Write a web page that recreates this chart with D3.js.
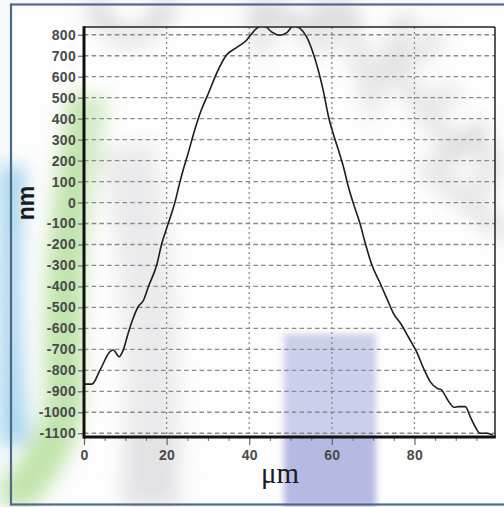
<!DOCTYPE html>
<html><head><meta charset="utf-8">
<script src="https://cdn.jsdelivr.net/npm/d3@7"></script>
<style>
html,body{margin:0;padding:0;background:#fff;}
#wrap{position:relative;width:504px;height:507px;overflow:hidden;}
#wrap svg{position:absolute;left:0;top:0;display:block;}
#bgSoft{filter:blur(9px);}
#bgMid{filter:blur(3px);}
</style>
</head><body>
<div id="wrap">
<svg id="bgBase" width="504" height="507"></svg>
<svg id="bgSoft" width="504" height="507"></svg>
<svg id="bgMid" width="504" height="507"></svg>
<svg id="chart" width="504" height="507"></svg>
</div>
<script>
const xValues = [0, 1.9, 3.9, 6.3, 7.1, 8.5, 9.5, 10.7, 11.9, 13.1, 14.4, 15.6, 17.6, 18.8, 20.4, 22.0, 23.2, 24.0, 25.2, 26.8, 28.4, 30.1, 32.1, 34.5, 37.0, 39.4, 40.4, 41.8, 43.0, 44.2, 45.4, 47.5, 49.1, 50.7, 52.3, 53.9, 55.5, 56.7, 57.9, 59.2, 60.3, 61.6, 62.8, 64.0, 65.2, 66.8, 68.0, 69.7, 71.7, 73.3, 74.9, 76.9, 78.5, 80.5, 82.2, 83.8, 85.5, 86.6, 87.8, 89.6, 90.6, 92.3, 93.5, 94.7, 95.9, 97.5, 99.0];
const heightNm = [-866, -866, -798, -711, -703, -735, -703, -623, -552, -497, -466, -400, -298, -198, -99, 0, 96, 155, 234, 346, 441, 520, 616, 703, 740, 775, 800, 830, 842, 835, 814, 798, 810, 842, 830, 790, 711, 632, 536, 409, 330, 250, 171, 75, -4, -99, -187, -298, -385, -457, -528, -584, -640, -711, -790, -854, -886, -894, -933, -976, -973, -973, -1021, -1069, -1100, -1100, -1108];
const yTicks = [800, 700, 600, 500, 400, 300, 200, 100, 0, -100, -200, -300, -400, -500, -600, -700, -800, -900, -1000, -1100];
const xTicks = [0, 20, 40, 60, 80];
const xMinorTicks = [5, 10, 15, 25, 30, 35, 45, 50, 55, 65, 70, 75, 85, 90, 95];

// ---- background layers (watermark) ----
const base = d3.select("#bgBase");
base.append("rect").attr("width",504).attr("height",507).attr("fill","#f7fafc");
base.append("rect").attr("x",11).attr("y",5).attr("width",493).attr("height",500).attr("fill","#fdfdfd");

const soft = d3.select("#bgSoft");
soft.append("path").attr("d","M 5 165 Q -8 300 8 445").attr("fill","none").attr("stroke","#a6d4ee")
  .attr("stroke-width",42);
soft.append("path").attr("d","M 90 95 Q 58 260 66 400 Q 55 460 5 505").attr("fill","none").attr("stroke","#c2e4ae")
  .attr("stroke-width",40);
soft.append("path").attr("d","M 125 145 Q 160 290 150 520").attr("fill","none").attr("stroke","#e3e3e6")
  .attr("stroke-width",55);
const wmStrokes = [
  "M 95 -5 Q 100 35 130 38 Q 160 35 168 -5",
  "M 258 -5 L 262 45 M 262 5 L 325 42 M 322 -5 L 326 45",
  "M 345 10 L 372 95 L 405 25",
  "M 395 70 L 455 150 M 395 70 L 435 40 M 425 110 L 450 95 M 455 150 L 480 130",
  "M 430 170 L 500 230 M 430 170 L 470 140 Q 500 150 480 190"
];
soft.selectAll("path.wmstroke").data(wmStrokes).join("path").attr("class","wmstroke").attr("d",d=>d)
  .attr("fill","none").attr("stroke","#c8c8c8").attr("stroke-width",22).attr("stroke-linecap","round")
  .attr("opacity",0.6);

const mid = d3.select("#bgMid");
mid.append("rect").attr("x",284).attr("y",334).attr("width",92).attr("height",190).attr("fill","#b6bae2");

// ---- chart ----
const svg = d3.select("#chart");
const defs = svg.append("defs");

// frame
svg.append("rect").attr("x",11).attr("y",4.5).attr("width",496).attr("height",500)
  .attr("fill","none").attr("stroke","#4d6b89").attr("stroke-width",2.2);

const L = 84, R = 495, T = 27, B = 437;
const x = d3.scaleLinear().domain([0, 99.5]).range([L, R]);
const y = d3.scaleLinear().domain([-1118, 837]).range([B, T]);

svg.append("rect").attr("x",L).attr("y",T).attr("width",R-L).attr("height",B-T).attr("fill","#ffffff").attr("opacity",0.3);

const grid = svg.append("g");
grid.selectAll("line.h").data(yTicks).join("line").attr("class","h")
  .attr("x1",L).attr("x2",R).attr("y1",d=>y(d)).attr("y2",d=>y(d))
  .attr("stroke","#8a8a8a").attr("stroke-width",1.3).attr("stroke-dasharray","4.5,3.2");
grid.selectAll("line.v").data(xTicks.filter(d=>d>0)).join("line").attr("class","v")
  .attr("y1",T).attr("y2",B).attr("x1",d=>x(d)).attr("x2",d=>x(d))
  .attr("stroke","#8a8a8a").attr("stroke-width",1.3).attr("stroke-dasharray","2,3");

defs.append("clipPath").attr("id","plotclip").append("rect").attr("x",L).attr("y",T).attr("width",R-L).attr("height",B-T);

const pts = xValues.map((v,i)=>[v, heightNm[i]]);
const line = d3.line().x(d=>x(d[0])).y(d=>y(d[1])).curve(d3.curveMonotoneX);
svg.append("path").datum(pts).attr("d",line).attr("fill","none")
  .attr("stroke","#1e1e1e").attr("stroke-width",1.6).attr("clip-path","url(#plotclip)");

const fmt = d => String(d);
const yAxis = d3.axisLeft(y).tickValues(yTicks).tickSize(6).tickPadding(2).tickFormat(fmt);
const gy = svg.append("g").attr("transform",`translate(${L},0)`).call(yAxis);
gy.select(".domain").remove();
gy.selectAll(".tick line").attr("stroke","#666").attr("stroke-width",1.2);
gy.selectAll(".tick text").attr("font-family","Liberation Sans, Arial, sans-serif").attr("font-weight","bold")
  .attr("font-size",14).attr("fill","#4a4a4a").attr("letter-spacing",0.3);

const xAxis = d3.axisBottom(x).tickValues(xTicks).tickSize(8).tickPadding(5).tickFormat(fmt);
const gx = svg.append("g").attr("transform",`translate(0,${B})`).call(xAxis);
gx.select(".domain").remove();
gx.selectAll(".tick line").attr("stroke","#666").attr("stroke-width",1.2);
gx.selectAll(".tick text").attr("font-family","Liberation Sans, Arial, sans-serif").attr("font-weight","bold")
  .attr("font-size",14).attr("fill","#4a4a4a").attr("letter-spacing",0.3);
const xMinor = d3.axisBottom(x).tickValues(xMinorTicks).tickSize(4).tickFormat("");
const gxm = svg.append("g").attr("transform",`translate(0,${B})`).call(xMinor);
gxm.select(".domain").remove();
gxm.selectAll(".tick line").attr("stroke","#777").attr("stroke-width",1.1);

svg.append("line").attr("x1",L).attr("x2",R).attr("y1",T).attr("y2",T).attr("stroke","#222").attr("stroke-width",1.5);
svg.append("line").attr("x1",R).attr("x2",R).attr("y1",T).attr("y2",B).attr("stroke","#222").attr("stroke-width",1.5);
svg.append("line").attr("x1",L).attr("x2",L).attr("y1",T-0.75).attr("y2",B+1.5).attr("stroke","#111").attr("stroke-width",3);
svg.append("line").attr("x1",L).attr("x2",R+0.75).attr("y1",B).attr("y2",B).attr("stroke","#111").attr("stroke-width",3);

svg.append("text").attr("transform","translate(34,203) rotate(-90)").attr("text-anchor","middle")
  .attr("font-family","Liberation Sans, Arial, sans-serif").attr("font-weight","bold").attr("font-size",23)
  .attr("fill","#1a1a1a").text("nm");
svg.append("text").attr("x",280).attr("y",483).attr("text-anchor","middle")
  .attr("font-family","Liberation Serif, Times New Roman, serif").attr("font-size",29)
  .attr("fill","#1a1a1a").text("μm");
</script>
</body></html>
